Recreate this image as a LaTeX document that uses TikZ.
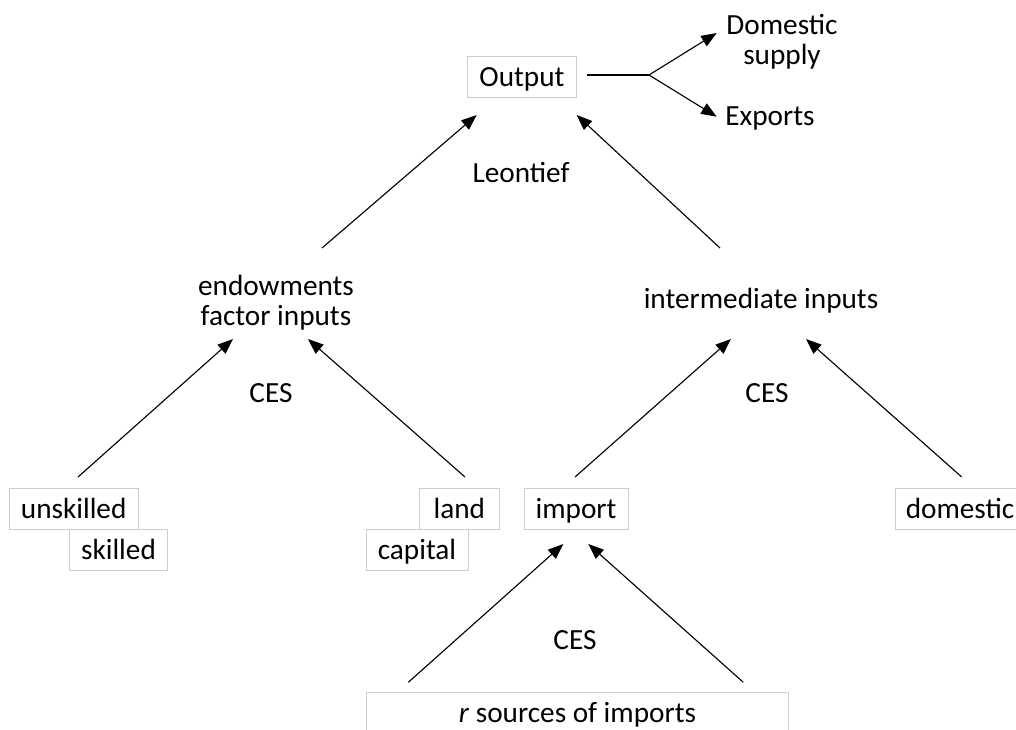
\documentclass[tikz,border=0pt]{standalone}
\usepackage{fontspec}
\setmainfont{Carlito}
\usetikzlibrary{arrows.meta}

\tikzset{
	box/.style={draw=gray!40, line width=0.7pt, inner sep=0pt, minimum height=1.025cm,
		text height=17.6pt, text depth=4pt},
	lbl/.style={inner sep=0pt, align=center},
	arr/.style={-{Triangle[length=11pt,width=8.5pt]}, line width=0.8pt}
}

\begin{document}
\begin{tikzpicture}[x=0.025cm, y=-0.025cm, font=\fontsize{20.8}{21.5}\selectfont]
	\useasboundingbox (0,0) rectangle (1016,729);
	\clip (0,0) rectangle (1016,729);

	% boxes
	\node (out) at (522,77) [box, minimum width=2.725cm] {Output};
	\node (unsk) at (73.7,508.7) [box, minimum width=3.225cm] {unskilled};
	\node (sk) at (118.5,549.7) [box, minimum width=2.4625cm] {skilled};
	\node (land) at (459.3,508.7) [box, minimum width=2cm] {land};
	\node (cap) at (417,549.7) [box, minimum width=2.55cm] {capital};
	\node (imp) at (576,508.7) [box, minimum width=2.6cm] {import};
	\node (dom) at (960,508.7) [box, minimum width=3.25cm] {domestic};
	\node (src) at (577.5,712.7) [box, minimum width=10.525cm] {\textit{r} sources of imports};

	% labels
	\node (dsup) at (782,42) [lbl] {Domestic\\supply};
	\node (exp) at (770,118) [lbl] {Exports};
	\node (leon) at (521,172) [lbl] {Leontief};
	\node (endw) at (276,303) [lbl] {endowments\\factor inputs};
	\node (interm) at (761,301) [lbl] {intermediate inputs};
	\node (ces1) at (271,393) [lbl] {CES};
	\node (ces2) at (767,393) [lbl] {CES};
	\node (ces3) at (575,640) [lbl] {CES};

	% arrow ends
	\coordinate (o1) at (587,75);
	\coordinate (o2) at (649,75);
	\coordinate (d1) at (716.7,33);
	\coordinate (e1) at (716.7,116.7);
	\coordinate (t1) at (322,248);
	\coordinate (h1) at (476.7,115);
	\coordinate (t2) at (720,248);
	\coordinate (h2) at (576.7,115);
	\coordinate (t3) at (78,477);
	\coordinate (h3) at (233,339);
	\coordinate (t4) at (465,477);
	\coordinate (h4) at (308,339);
	\coordinate (t5) at (575,477);
	\coordinate (h5) at (731,339);
	\coordinate (t6) at (961.7,477);
	\coordinate (h6) at (806,339);
	\coordinate (t7) at (408.3,682.3);
	\coordinate (h7) at (563.3,544);
	\coordinate (t8) at (743.3,682.3);
	\coordinate (h8) at (588.3,544);

	\draw [line width=0.8pt] (o1) -- (o2);
	\path 	[arr]	(o2)	edge	(d1)
				edge	(e1)
			(t1)	edge	(h1)
			(t2)	edge	(h2)
			(t3)	edge	(h3)
			(t4)	edge	(h4)
			(t5)	edge	(h5)
			(t6)	edge	(h6)
			(t7)	edge	(h7)
			(t8)	edge	(h8);
\end{tikzpicture}
\end{document}
